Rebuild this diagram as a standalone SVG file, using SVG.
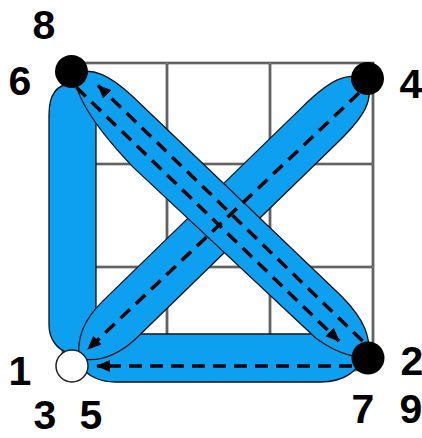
<svg xmlns="http://www.w3.org/2000/svg" width="422" height="438" viewBox="0 0 422 438">
<defs>
<style>
.grid{fill:none;stroke:#333;stroke-width:2.6}
.gridin{fill:none;stroke:#aaa;stroke-width:0.8}
.band{fill:#0ea0f0;stroke:#111;stroke-width:1.3;stroke-linejoin:round}
.dash{fill:none;stroke:#000;stroke-width:3.5;stroke-dasharray:13 8}
.lbl{font-family:"Liberation Sans",Arial,sans-serif;font-weight:bold;font-size:41px;fill:#000;text-anchor:middle}
.dot{fill:#000}
.open{fill:#fff;stroke:#222;stroke-width:1.5}
</style>
<marker id="ah" viewBox="0 0 14 12" markerWidth="14" markerHeight="12" refX="13" refY="6" orient="auto" markerUnits="userSpaceOnUse">
<path d="M0,0 L14,6 L0,12 Z" fill="#000"/>
</marker>
</defs>
<rect width="422" height="438" fill="#fff"/>
<g id="grid">
<path class="grid" d="M63,63 H373 V370 H63 Z M167,63 V370 M270,63 V370 M63,164 H373 M63,267 H373"/>
<path class="gridin" d="M63,63 H373 V370 H63 Z M167,63 V370 M270,63 V370 M63,164 H373 M63,267 H373"/>
</g>
<g id="connectors">
<path id="band-left" class="band" d="M72,84 C56,84 49,96 49,115 L49,325 C49,340 58,349 66,352 L80,352 C90,345 96,336 96,325 L96,115 C96,96 88,84 72,84 Z"/>
<path id="band-bottom" class="band" d="M86,360 C92,344 105,334 130,334 L330,334 C350,334 360,345 362,355 C360,370 345,382 320,382 L115,382 C100,382 90,376 86,372 Z"/>
<path id="band-tr-bl" class="band" transform="translate(367.5,78.5) rotate(135.8)" d="M2,0 C8,20 30,25 65,25 L345,25 C375,25 392,14 402,0 C392,-14 375,-25 345,-25 L65,-25 C30,-25 8,-20 2,0 Z"/>
<path id="band-tl-br" class="band" transform="translate(72,72) rotate(44)" d="M3,0 C10,-18 30,-24 60,-24.5 L350,-26 C385,-25 398,-16 412,-2 C408,4 392,18 360,22 L110,26 C60,24 20,16 3,0 Z"/>
<path class="dash" marker-end="url(#ah)" d="M359,93 L88,349"/>
<path class="dash" marker-end="url(#ah)" d="M76.5,87.5 L339,341"/>
<path class="dash" marker-end="url(#ah)" d="M362.6,341 L98,85.4"/>
<path class="dash" marker-end="url(#ah)" d="M352,366 L97,366"/>
</g>
<g id="node-tl">
<circle class="dot" cx="71.5" cy="71.5" r="16.5"/>
<text class="lbl" x="44" y="39">8</text>
<text class="lbl" x="20" y="95">6</text>
</g>
<g id="node-tr">
<circle class="dot" cx="367.5" cy="78.5" r="16.5"/>
<text class="lbl" x="411" y="98">4</text>
</g>
<g id="node-br">
<circle class="dot" cx="368" cy="358" r="16.5"/>
<text class="lbl" x="412" y="375">2</text>
<text class="lbl" x="363" y="423">7</text>
<text class="lbl" x="411" y="423">9</text>
</g>
<g id="node-bl">
<circle class="open" cx="72" cy="366" r="16"/>
<text class="lbl" x="20" y="385">1</text>
<text class="lbl" x="45" y="429">3</text>
<text class="lbl" x="91" y="429">5</text>
</g>
</svg>
